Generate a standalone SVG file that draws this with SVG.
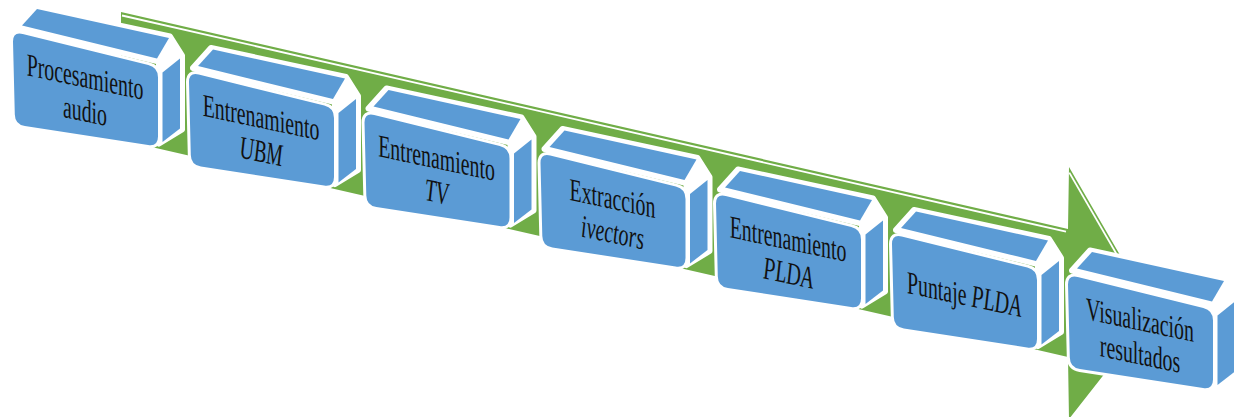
<svg xmlns="http://www.w3.org/2000/svg" width="1234" height="417" viewBox="0 0 1234 417">
  <style>
    .face { fill: #5B9BD5; }
    .rim { fill: #ffffff; stroke: #ffffff; stroke-width: 6; stroke-linejoin: round; }
    .shaft { fill: #70AD47; }
    .gleam { fill: none; stroke: #ffffff; stroke-width: 1.8; }
    .lbl { font-family: "Liberation Serif", "Times New Roman", serif; font-size: 32px; fill: #111111; text-anchor: middle; }
    .it { font-style: italic; }
  </style>
  <defs>
    <!-- front face of a block, slightly foreshortened, rounded corners -->
    <path id="front" d="M0,10 Q0,0 9.7,2.4 L135.3,33.6 Q145,36 145,46 L145,105 Q145,115 135.1,113.5 L11.9,94.5 Q2,93 1.8,83 Z"/>
    <!-- 3D block: white rim, top face, right face, front face -->
    <g id="box">
      <use href="#front" class="rim"/>
      <path class="rim" d="M4,-4 L22,-24 L157,5 L169,24 L169,98 L146,112 L146,30 Z"/>
      <polygon class="face" points="9,-6 24,-22.5 156,6.5 144,27"/>
      <polygon class="face" points="149.5,41 167,27 167,97 149.5,110.5"/>
      <use href="#front" class="face"/>
    </g>
  </defs>

  <!-- process arrow running behind the blocks -->
  <g id="connectors">
    <polygon class="shaft" points="121,12 1068,229 1069,167 1153,312 1069,419 1068,357 121,140"/>
    <line class="gleam" x1="122" y1="15.5" x2="1066" y2="231.7"/>
    <line class="gleam" x1="1069.3" y1="172.6" x2="1147.8" y2="308"/>
  </g>

  <g id="n1" transform="translate(13,31.5)">
    <use href="#box"/>
    <text class="lbl" transform="matrix(0.62,0.13,0,1,72,56)">Procesamiento</text>
    <text class="lbl" transform="matrix(0.62,0.13,0,1,72,90)">audio</text>
  </g>

  <g id="n2" transform="translate(189,72)">
    <use href="#box"/>
    <text class="lbl" transform="matrix(0.62,0.13,0,1,72,56)">Entrenamiento</text>
    <text class="lbl it" transform="matrix(0.62,0.13,0,1,72,90)">UBM</text>
  </g>

  <g id="n3" transform="translate(364.5,112.5)">
    <use href="#box"/>
    <text class="lbl" transform="matrix(0.62,0.13,0,1,72,56)">Entrenamiento</text>
    <text class="lbl it" transform="matrix(0.62,0.13,0,1,72,90)">TV</text>
  </g>

  <g id="n4" transform="translate(540.5,153)">
    <use href="#box"/>
    <text class="lbl" transform="matrix(0.62,0.13,0,1,72,56)">Extracción</text>
    <text class="lbl it" transform="matrix(0.62,0.13,0,1,72,90)">ivectors</text>
  </g>

  <g id="n5" transform="translate(716,193.5)">
    <use href="#box"/>
    <text class="lbl" transform="matrix(0.62,0.13,0,1,72,56)">Entrenamiento</text>
    <text class="lbl it" transform="matrix(0.62,0.13,0,1,72,90)">PLDA</text>
  </g>

  <g id="n6" transform="translate(892,234)">
    <use href="#box"/>
    <text class="lbl" transform="matrix(0.62,0.13,0,1,72,71)">Puntaje <tspan class="it">PLDA</tspan></text>
  </g>

  <g id="n7" transform="translate(1068,274.5)">
    <use href="#box"/>
    <text class="lbl" transform="matrix(0.62,0.13,0,1,72,56)">Visualización</text>
    <text class="lbl" transform="matrix(0.62,0.13,0,1,72,90)">resultados</text>
  </g>
</svg>
